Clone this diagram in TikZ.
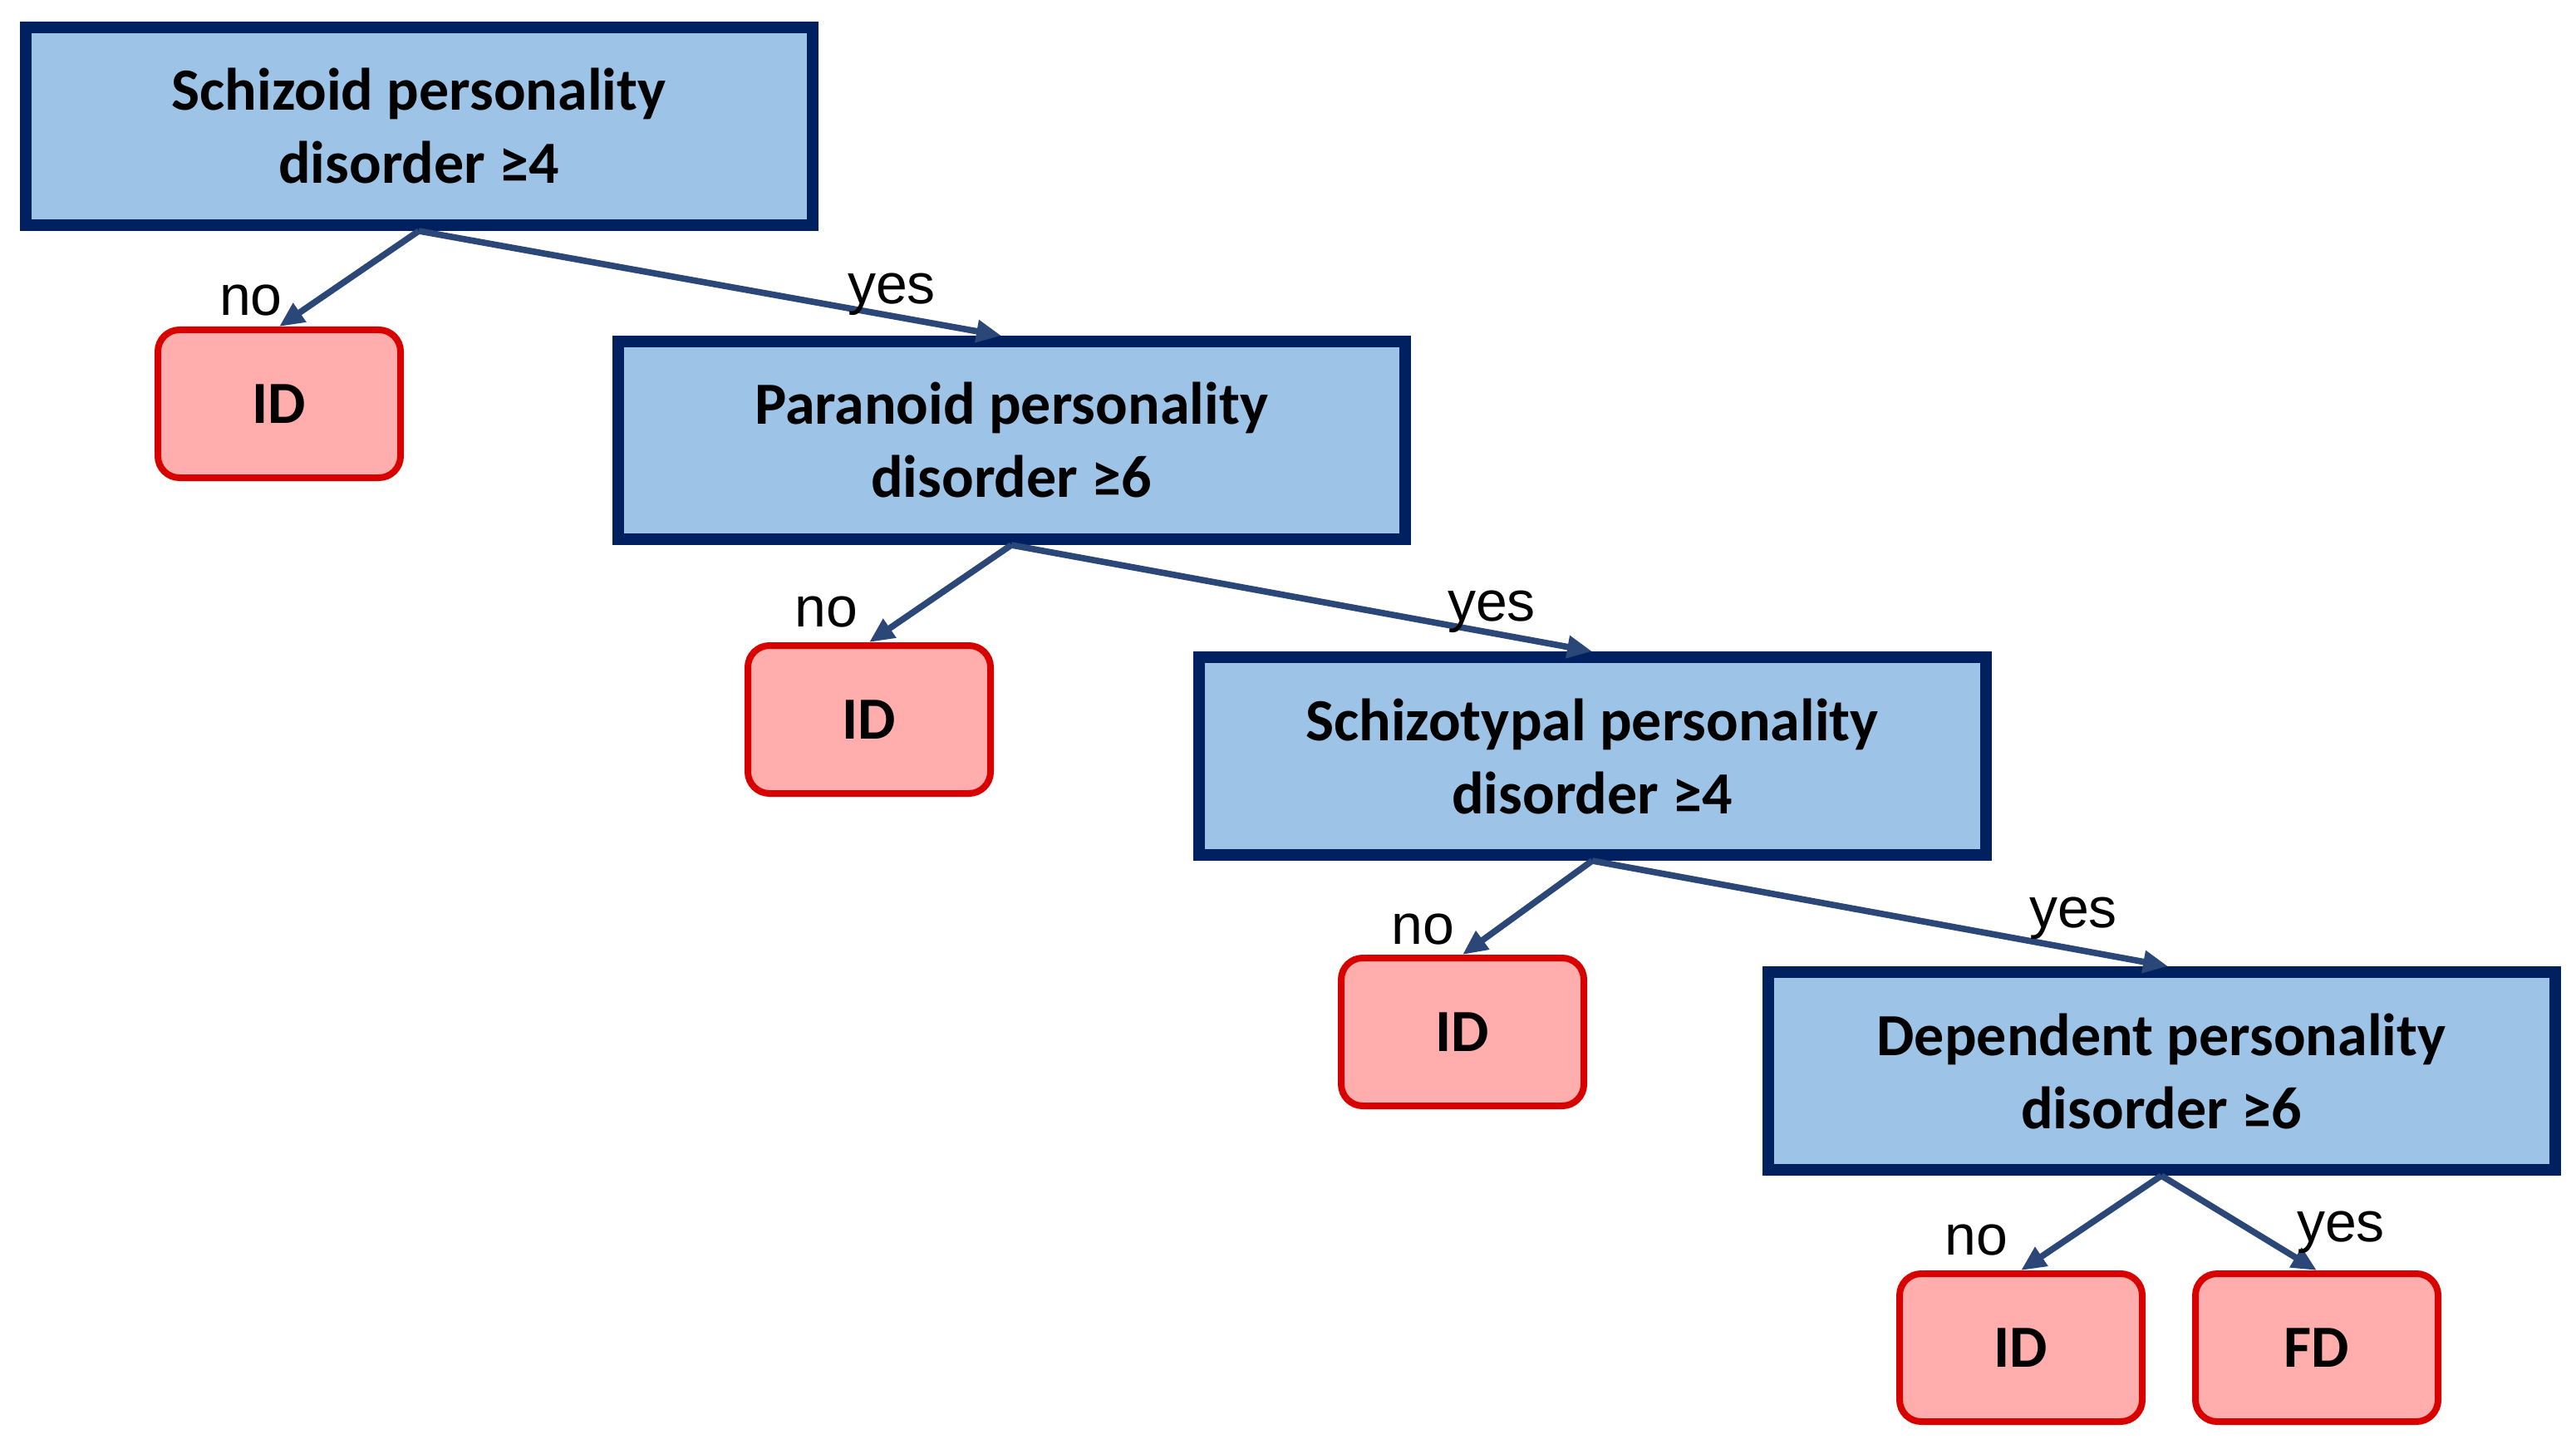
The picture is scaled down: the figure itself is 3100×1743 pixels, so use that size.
\documentclass[tikz,border=0pt]{standalone}
\usepackage{fontspec}
\setmainfont{Carlito}
\newfontfamily\lblfont{Liberation Sans}
\usetikzlibrary{arrows.meta}
\definecolor{qfill}{HTML}{9DC3E6}
\definecolor{qline}{HTML}{002060}
\definecolor{rfill}{HTML}{FFADAD}
\definecolor{rline}{HTML}{D90000}
\definecolor{arr}{HTML}{2B4778}
\tikzset{
  qbox/.style={draw=qline, fill=qfill, line width=3.5pt, minimum width=236.75pt, minimum height=59.5pt, inner sep=0pt, align=center, font=\fontsize{18}{22}\selectfont\bfseries},
  rbox/.style={draw=rline, fill=rfill, line width=2pt, rounded corners=6.5pt, minimum width=73pt, minimum height=44.5pt, inner sep=0pt, font=\fontsize{18}{22}\selectfont\bfseries},
  conn/.style={draw=arr, line width=1.9pt, -{Triangle[length=7.5pt,width=6.5pt]}},
  lbl/.style={inner sep=0pt, font=\lblfont\fontsize{17}{20}\selectfont}
}
\begin{document}
\begin{tikzpicture}[x=0.25pt,y=-0.25pt]
\useasboundingbox (0,0) rectangle (3100,1743);
\node[qbox] (b1) at (504,152) {Schizoid personality\\disorder ≥4};
\node[qbox] (b2) at (1217,530) {Paranoid personality\\disorder ≥6};
\node[qbox] (b3) at (1916,910) {Schizotypal personality\\disorder ≥4};
\node[qbox] (b4) at (2601,1289) {Dependent personality\\disorder ≥6};
\node[rbox] (r1) at (336,486) {ID};
\node[rbox] (r2) at (1046,866) {ID};
\node[rbox] (r3) at (1760,1242) {ID};
\node[rbox] (r4) at (2432,1622) {ID};
\node[rbox] (r5) at (2788,1622) {FD};
\draw[conn] (b1.south) -- (r1.north);
\draw[conn] (b1.south) -- ([xshift=-3pt]b2.north);
\draw[conn] (b2.south) -- (r2.north);
\draw[conn] (b2.south) -- (b3.north);
\draw[conn] (b3.south) -- (r3.north);
\draw[conn] (b3.south) -- ([xshift=2pt]b4.north);
\draw[conn] (b4.south) -- (r4.north);
\draw[conn] (b4.south) -- (r5.north);
\node[lbl] (n1) at (302,362) {no};
\node[lbl] (y1) at (1073,354) {yes};
\node[lbl] (n2) at (994,737) {no};
\node[lbl] (y2) at (1795,736) {yes};
\node[lbl] (n3) at (1712,1119) {no};
\node[lbl] (y3) at (2495,1105) {yes};
\node[lbl] (n4) at (2378,1493) {no};
\node[lbl] (y4) at (2817,1483) {yes};
\end{tikzpicture}
\end{document}
